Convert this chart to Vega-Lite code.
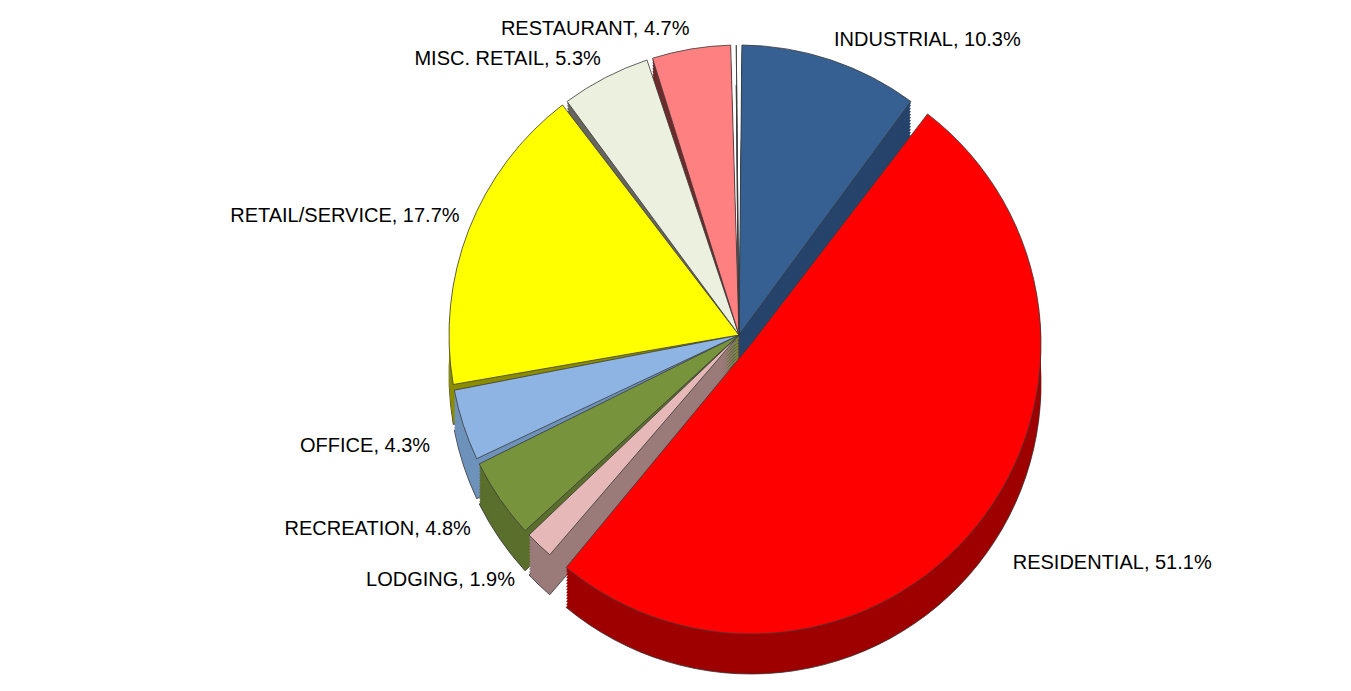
{
  "$schema": "https://vega.github.io/schema/vega-lite/v6.json",
  "width": 1000,
  "height": 650,
  "padding": {"left": 230, "top": 10, "right": 0, "bottom": 0},
  "background": "white",
  "view": {"stroke": null},
  "data": {
    "values": [
      {"idx": 1, "category": "INDUSTRIAL", "value": 10.3, "label": "INDUSTRIAL, 10.3%"},
      {"idx": 2, "category": "RESIDENTIAL", "value": 51.1, "label": "RESIDENTIAL, 51.1%"},
      {"idx": 3, "category": "LODGING", "value": 1.9, "label": "LODGING, 1.9%"},
      {"idx": 4, "category": "RECREATION", "value": 4.8, "label": "RECREATION, 4.8%"},
      {"idx": 5, "category": "OFFICE", "value": 4.3, "label": "OFFICE, 4.3%"},
      {"idx": 6, "category": "RETAIL/SERVICE", "value": 17.7, "label": "RETAIL/SERVICE, 17.7%"},
      {"idx": 7, "category": "MISC. RETAIL", "value": 5.3, "label": "MISC. RETAIL, 5.3%"},
      {"idx": 8, "category": "RESTAURANT", "value": 4.7, "label": "RESTAURANT, 4.7%"},
      {"idx": 9, "category": "OTHER", "value": 0.3, "label": ""}
    ]
  },
  "encoding": {
    "theta": {"field": "value", "type": "quantitative", "stack": true},
    "order": {"field": "idx", "type": "quantitative"}
  },
  "layer": [
    {
      "mark": {"type": "arc", "radius": 290, "xOffset": {"expr": "datum.idx == 2 ? 12 : 0"}, "yOffset": {"expr": "datum.idx == 2 ? 49 : 40"}, "padAngle": 0.02, "stroke": "#333333", "strokeWidth": 0.8},
      "encoding": {"color": {"field": "category", "type": "nominal", "legend": null,
        "scale": {"domain": ["INDUSTRIAL","RESIDENTIAL","LODGING","RECREATION","OFFICE","RETAIL/SERVICE","MISC. RETAIL","RESTAURANT","OTHER"],
                  "range": ["#26446B","#9E0000","#9A7B7A","#5B6F2D","#6E92BB","#8C8C00","#66665E","#6E2B2B","#DDDDDD"]}}}
    },
    {"mark": {"type": "arc", "radius": 290, "xOffset": {"expr": "datum.idx == 2 ? 12 : 0"}, "yOffset": {"expr": "datum.idx == 2 ? 46 : 37"}, "padAngle": 0.02, "strokeWidth": 0}, "encoding": {"color": {"field": "category", "type": "nominal", "legend": null}}},
    {"mark": {"type": "arc", "radius": 290, "xOffset": {"expr": "datum.idx == 2 ? 12 : 0"}, "yOffset": {"expr": "datum.idx == 2 ? 43 : 34"}, "padAngle": 0.02, "strokeWidth": 0}, "encoding": {"color": {"field": "category", "type": "nominal", "legend": null}}},
    {"mark": {"type": "arc", "radius": 290, "xOffset": {"expr": "datum.idx == 2 ? 12 : 0"}, "yOffset": {"expr": "datum.idx == 2 ? 40 : 31"}, "padAngle": 0.02, "strokeWidth": 0}, "encoding": {"color": {"field": "category", "type": "nominal", "legend": null}}},
    {"mark": {"type": "arc", "radius": 290, "xOffset": {"expr": "datum.idx == 2 ? 12 : 0"}, "yOffset": {"expr": "datum.idx == 2 ? 37 : 28"}, "padAngle": 0.02, "strokeWidth": 0}, "encoding": {"color": {"field": "category", "type": "nominal", "legend": null}}},
    {"mark": {"type": "arc", "radius": 290, "xOffset": {"expr": "datum.idx == 2 ? 12 : 0"}, "yOffset": {"expr": "datum.idx == 2 ? 34 : 25"}, "padAngle": 0.02, "strokeWidth": 0}, "encoding": {"color": {"field": "category", "type": "nominal", "legend": null}}},
    {"mark": {"type": "arc", "radius": 290, "xOffset": {"expr": "datum.idx == 2 ? 12 : 0"}, "yOffset": {"expr": "datum.idx == 2 ? 31 : 22"}, "padAngle": 0.02, "strokeWidth": 0}, "encoding": {"color": {"field": "category", "type": "nominal", "legend": null}}},
    {"mark": {"type": "arc", "radius": 290, "xOffset": {"expr": "datum.idx == 2 ? 12 : 0"}, "yOffset": {"expr": "datum.idx == 2 ? 28 : 19"}, "padAngle": 0.02, "strokeWidth": 0}, "encoding": {"color": {"field": "category", "type": "nominal", "legend": null}}},
    {"mark": {"type": "arc", "radius": 290, "xOffset": {"expr": "datum.idx == 2 ? 12 : 0"}, "yOffset": {"expr": "datum.idx == 2 ? 25 : 16"}, "padAngle": 0.02, "strokeWidth": 0}, "encoding": {"color": {"field": "category", "type": "nominal", "legend": null}}},
    {"mark": {"type": "arc", "radius": 290, "xOffset": {"expr": "datum.idx == 2 ? 12 : 0"}, "yOffset": {"expr": "datum.idx == 2 ? 22 : 13"}, "padAngle": 0.02, "strokeWidth": 0}, "encoding": {"color": {"field": "category", "type": "nominal", "legend": null}}},
    {"mark": {"type": "arc", "radius": 290, "xOffset": {"expr": "datum.idx == 2 ? 12 : 0"}, "yOffset": {"expr": "datum.idx == 2 ? 19 : 10"}, "padAngle": 0.02, "strokeWidth": 0}, "encoding": {"color": {"field": "category", "type": "nominal", "legend": null}}},
    {"mark": {"type": "arc", "radius": 290, "xOffset": {"expr": "datum.idx == 2 ? 12 : 0"}, "yOffset": {"expr": "datum.idx == 2 ? 16 : 7"}, "padAngle": 0.02, "strokeWidth": 0}, "encoding": {"color": {"field": "category", "type": "nominal", "legend": null}}},
    {"mark": {"type": "arc", "radius": 290, "xOffset": {"expr": "datum.idx == 2 ? 12 : 0"}, "yOffset": {"expr": "datum.idx == 2 ? 13 : 4"}, "padAngle": 0.02, "strokeWidth": 0}, "encoding": {"color": {"field": "category", "type": "nominal", "legend": null}}},
    {"mark": {"type": "arc", "radius": 290, "xOffset": {"expr": "datum.idx == 2 ? 12 : 0"}, "yOffset": {"expr": "datum.idx == 2 ? 11 : 2"}, "padAngle": 0.02, "strokeWidth": 0}, "encoding": {"color": {"field": "category", "type": "nominal", "legend": null}}},
    {
      "mark": {"type": "arc", "radius": 290, "xOffset": {"expr": "datum.idx == 2 ? 12 : 0"}, "yOffset": {"expr": "datum.idx == 2 ? 9 : 0"}, "padAngle": 0.02, "stroke": "#3A3A3A", "strokeWidth": 0.8},
      "encoding": {"fill": {"field": "category", "type": "nominal", "legend": null,
        "scale": {"domain": ["INDUSTRIAL","RESIDENTIAL","LODGING","RECREATION","OFFICE","RETAIL/SERVICE","MISC. RETAIL","RESTAURANT","OTHER"],
                  "range": ["#376092","#FF0000","#E6B9B8","#77933C","#8DB4E2","#FFFF00","#EBF1DE","#FF8080","#FFFFFF"]}}}
    },
    {
      "mark": {"type": "text", "font": "Liberation Sans", "fontSize": 20, "fill": "#000000",
        "radius": {"expr": "datum.idx == 2 ? 350 : (datum.idx >= 3 && datum.idx <= 5 ? 325 : 300)"},
        "align": {"expr": "datum.idx <= 2 ? 'left' : 'right'"},
        "baseline": {"expr": "datum.idx == 1 || datum.idx >= 6 ? 'bottom' : 'top'"}},
      "encoding": {"text": {"field": "label", "type": "nominal"}}
    }
  ]
}
